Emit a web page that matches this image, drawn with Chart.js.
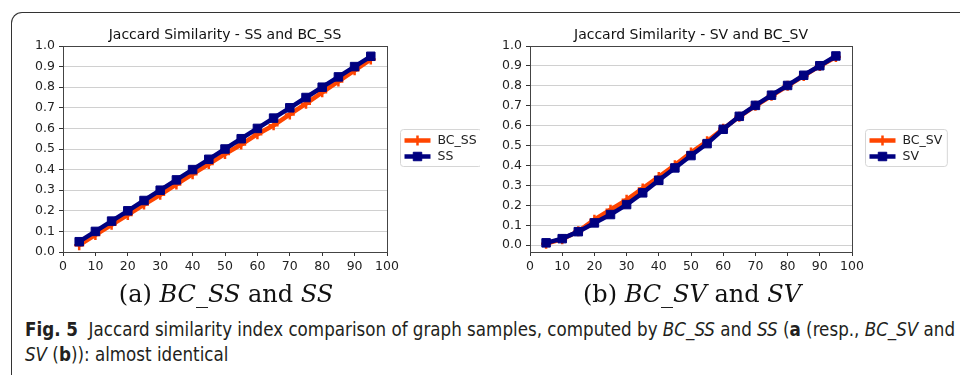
<!DOCTYPE html>
<html>
<head>
<meta charset="utf-8">
<script src="https://cdn.jsdelivr.net/npm/chart.js@4.4.0/dist/chart.umd.min.js"></script>
<style>
  html, body { margin: 0; padding: 0; background: #fff; }
  #page { position: relative; width: 960px; height: 375px; overflow: hidden; background: #fff; }
  #frame {
    position: absolute; left: 11px; top: 12px; width: 1100px; height: 420px;
    border-left: 1.5px solid #333; border-top: 1.5px solid #333;
    border-top-left-radius: 11px;
  }
  .plot { position: absolute; top: 20px; width: 480px; height: 262px; }
  #plotA { left: 0; }
  #plotB { left: 480px; }
  .sub {
    position: absolute; top: 280px; width: 320px; text-align: center;
    font-family: "DejaVu Serif", "Liberation Serif", serif; font-size: 24px; color: #111;
  }
  .sub i { font-style: italic; }
  #subA { left: 66px; }
  #subB { left: 532px; }
  #caption {
    position: absolute; left: 25px; top: 317px; width: 960px;
    font-family: "Liberation Sans Narrow", "DejaVu Sans Condensed", "Noto Sans", sans-serif;
    font-stretch: condensed; font-size: 18.6px; line-height: 25px; color: #231f20; white-space: nowrap;
  }
</style>
</head>
<body>
<div id="page">
  <div id="frame"></div>
  <div class="plot" id="plotA"><canvas id="chartA" width="480" height="262"></canvas></div>
  <div class="plot" id="plotB"><canvas id="chartB" width="480" height="262"></canvas></div>
  <div class="sub" id="subA">(a) <i>BC_SS</i> and <i>SS</i></div>
  <div class="sub" id="subB">(b) <i>BC_SV</i> and <i>SV</i></div>
  <div id="caption"><b>Fig. 5</b>&nbsp; Jaccard similarity index comparison of graph samples, computed by <i>BC_SS</i> and <i>SS</i> (<b>a</b> (resp., <i>BC_SV</i> and<br><i>SV</i> (<b>b</b>)): almost identical</div>
</div>

<script>
// Sample sizes on the x axis
const xValues = [5, 10, 15, 20, 25, 30, 35, 40, 45, 50, 55, 60, 65, 70, 75, 80, 85, 90, 95];

// (a) SS vs BC_SS
const ssValues = [0.05, 0.10, 0.15, 0.20, 0.25, 0.30, 0.35, 0.40, 0.45, 0.50, 0.55, 0.60, 0.65, 0.70, 0.75, 0.80, 0.85, 0.90, 0.95];
const bcSsValues = [0.033, 0.083, 0.132, 0.180, 0.230, 0.278, 0.328, 0.378, 0.427, 0.476, 0.522, 0.572, 0.615, 0.668, 0.720, 0.775, 0.828, 0.882, 0.935];

// (b) SV vs BC_SV
const svValues = [0.012, 0.033, 0.068, 0.112, 0.154, 0.204, 0.263, 0.326, 0.388, 0.450, 0.510, 0.582, 0.647, 0.702, 0.753, 0.802, 0.853, 0.901, 0.950];
const bcSvValues = [0.008, 0.030, 0.070, 0.128, 0.178, 0.228, 0.285, 0.343, 0.402, 0.465, 0.522, 0.585, 0.645, 0.700, 0.750, 0.800, 0.850, 0.900, 0.945];

// Tick labels
const yTicks = [0.0, 0.1, 0.2, 0.3, 0.4, 0.5, 0.6, 0.7, 0.8, 0.9, 1.0];
const xTicks = [0, 10, 20, 30, 40, 50, 60, 70, 80, 90, 100];

const ORANGE = '#ff4500';
const NAVY = '#000080';
const FONT = { family: 'DejaVu Sans', size: 12.5 };

function toPoints(ys) {
    return xValues.map((x, i) => ({ x: x, y: ys[i] }));
}

// Box around the plot area and a matplotlib-like legend on the right
const framePlugin = {
    id: 'frameAndLegend',
    afterDraw(chart) {
        const ctx = chart.ctx;
        const area = chart.chartArea;
        ctx.save();
        ctx.strokeStyle = '#444';
        ctx.lineWidth = 1;
        ctx.strokeRect(Math.round(area.left) + 0.5, Math.round(area.top) + 0.5,
            Math.round(area.right - area.left), Math.round(area.bottom - area.top));

        // legend
        ctx.font = '12.5px "DejaVu Sans"';
        const sets = chart.data.datasets;
        const textW = Math.max(...sets.map(d => ctx.measureText(d.label).width));
        const w = 38 + textW + 4;
        const h = 37;
        const x0 = Math.round(area.right) + 13.5;
        const y0 = Math.round((area.top + area.bottom) / 2 - h / 2) - 1.5;
        ctx.fillStyle = '#fff';
        ctx.strokeStyle = '#d6d6d6';
        ctx.beginPath();
        ctx.roundRect(x0, y0, w, h, 3);
        ctx.fill();
        ctx.stroke();

        sets.forEach((d, i) => {
            const y = y0 + 11 + i * 16;
            ctx.strokeStyle = d.borderColor;
            ctx.lineWidth = 4.5;
            ctx.beginPath();
            ctx.moveTo(x0 + 4, y);
            ctx.lineTo(x0 + 30, y);
            ctx.stroke();
            ctx.fillStyle = d.pointBackgroundColor;
            ctx.strokeStyle = d.pointBorderColor;
            ctx.lineWidth = d.pointBorderWidth;
            Chart.helpers.drawPoint(ctx, { pointStyle: d.pointStyle, radius: d.pointRadius, rotation: 0, borderWidth: d.pointBorderWidth }, x0 + 17, y);
            ctx.fillStyle = '#222';
            ctx.textBaseline = 'middle';
            ctx.fillText(d.label, x0 + 37, y + 0.5);
        });
        ctx.restore();
    }
};

function makeChart(canvasId, title, bcLabel, bcData, label, data, yMin, padLeft, padRight) {
    const ctx = document.getElementById(canvasId).getContext('2d');
    return new Chart(ctx, {
        type: 'line',
        data: {
            datasets: [{
                label: bcLabel,
                data: toPoints(bcData),
                borderColor: ORANGE,
                borderWidth: 4.5,
                pointStyle: 'cross',
                pointRadius: 5,
                pointBorderWidth: 2.5,
                pointBackgroundColor: ORANGE,
                pointBorderColor: ORANGE,
                order: 2
            }, {
                label: label,
                data: toPoints(data),
                borderColor: NAVY,
                borderWidth: 4.5,
                pointStyle: 'rect',
                pointRadius: 6,
                pointBorderWidth: 1,
                pointBackgroundColor: NAVY,
                pointBorderColor: NAVY,
                order: 1
            }]
        },
        options: {
            responsive: false,
            animation: false,
            layout: { padding: { left: padLeft, right: padRight, top: 0, bottom: 0 } },
            plugins: {
                legend: { display: false },
                tooltip: { enabled: false },
                title: {
                    display: true,
                    text: title,
                    fullSize: false,
                    color: '#111',
                    font: { family: 'DejaVu Sans', size: 14, weight: 'normal' },
                    padding: { top: 6.6, bottom: 2.6 }
                }
            },
            scales: {
                x: {
                    type: 'linear',
                    min: 0,
                    max: 100,
                    afterBuildTicks: scale => { scale.ticks = xTicks.map(v => ({ value: v })); },
                    afterFit: scale => { scale.height = 30; },
                    ticks: { font: FONT, color: '#222', padding: 3, maxRotation: 0 },
                    grid: { drawOnChartArea: false, drawTicks: true, tickLength: 4, tickColor: '#333', tickWidth: 1 },
                    border: { display: true, color: '#444', width: 1 }
                },
                y: {
                    type: 'linear',
                    min: yMin,
                    max: 1.0,
                    afterBuildTicks: scale => { scale.ticks = yTicks.map(v => ({ value: v })); },
                    afterFit: scale => { scale.width = 40; },
                    ticks: { font: FONT, color: '#222', padding: 4, callback: v => v.toFixed(1) },
                    grid: { color: '#d0d0d0', lineWidth: 1, tickLength: 4, tickColor: '#333', tickWidth: 1 },
                    border: { display: true, color: '#444', width: 1 }
                }
            }
        },
        plugins: [framePlugin]
    });
}

makeChart('chartA', 'Jaccard Similarity - SS and BC_SS', 'BC_SS', bcSsValues, 'SS', ssValues, 0, 23, 93);
makeChart('chartB', 'Jaccard Similarity - SV and BC_SV', 'BC_SV', bcSvValues, 'SV', svValues, -0.034, 10, 108);
</script>
</body>
</html>
